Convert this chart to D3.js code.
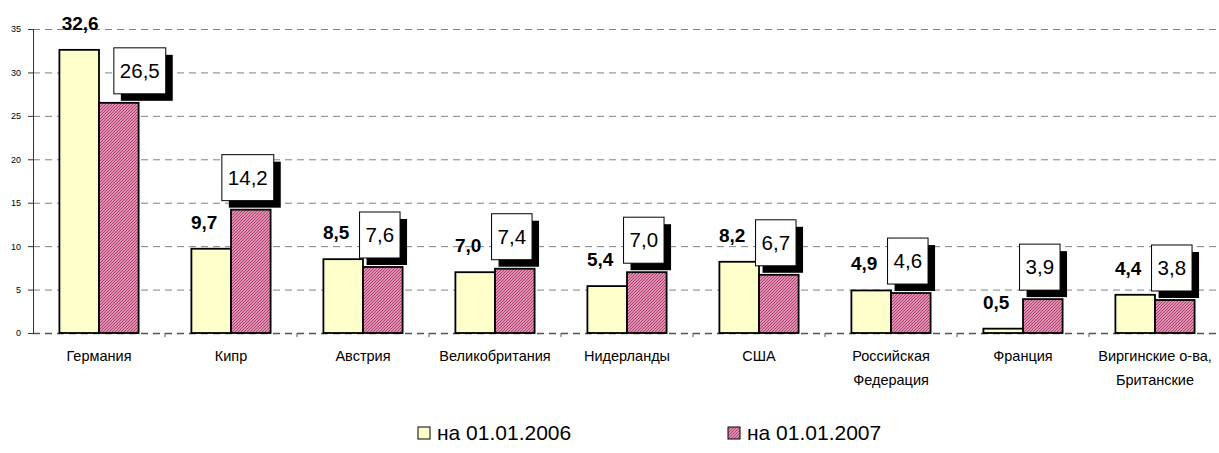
<!DOCTYPE html>
<html>
<head>
<meta charset="utf-8">
<script src="https://cdn.jsdelivr.net/npm/d3@7"></script>
<style>
  body { margin: 0; background: #fff; }
  svg { font-family: Arial, "Liberation Sans", sans-serif; }
</style>
</head>
<body>
<svg id="chart" width="1219" height="453"></svg>
<script>
var categories = ["Германия", "Кипр", "Австрия", "Великобритания", "Нидерланды", "США",
  "Российская\nФедерация", "Франция", "Виргинские о-ва,\nБританские"];
var values2006 = [32.6, 9.7, 8.5, 7.0, 5.4, 8.2, 4.9, 0.5, 4.4];
var values2007 = [26.5, 14.2, 7.6, 7.4, 7.0, 6.7, 4.6, 3.9, 3.8];
var yTicks = [0, 5, 10, 15, 20, 25, 30, 35];
var seriesNames = ["на 01.01.2006", "на 01.01.2007"];

var svg = d3.select("#chart");
var fmt = function(v) { return d3.format(".1f")(v).replace(".", ","); };

// note: "top" is taken by window.top, so plot edges get a prefix
var pLeft = 33, pTop = 29, pBottom = 333, pRight = 1221;
var x = d3.scaleBand().domain(categories).range([pLeft, pRight]);
var y = d3.scaleLinear().domain([0, 35]).range([pBottom, pTop]);
var bw = x.bandwidth() * 0.3;

// hatch for the 2007 series
var defs = svg.append("defs");
var pat = defs.append("pattern").attr("id", "hatch")
  .attr("patternUnits", "userSpaceOnUse").attr("width", 3).attr("height", 3);
pat.append("rect").attr("width", 3).attr("height", 3).attr("fill", "#f8dce8");
pat.append("path").attr("d", "M-1,1 l2,-2 M0,3 l3,-3 M2,4 l2,-2")
  .attr("stroke", "#b83a70").attr("stroke-width", 1.3);

// gridlines
svg.append("g").selectAll("line").data(yTicks).join("line")
  .attr("x1", pLeft).attr("x2", 1219)
  .attr("y1", function(d) { return y(d) + 0.5; }).attr("y2", function(d) { return y(d) + 0.5; })
  .attr("stroke", function(d) { return d === 0 ? "#555" : "#808080"; })
  .attr("stroke-width", function(d) { return d === 0 ? 1.5 : 1; })
  .attr("stroke-dasharray", "7,5");

// y axis
var yAxis = svg.append("g").attr("transform", "translate(" + pLeft + ",0)")
  .call(d3.axisLeft(y).tickValues(yTicks).tickSize(5).tickPadding(7));
yAxis.select(".domain").attr("stroke", "#333");
yAxis.selectAll(".tick line").attr("stroke", "#333");
yAxis.selectAll("text").attr("font-size", 9).attr("font-family", "Arial").attr("fill", "#000");

// category boundary ticks
svg.append("g").selectAll("line").data(categories.slice(1)).join("line")
  .attr("x1", function(d) { return x(d); }).attr("x2", function(d) { return x(d); })
  .attr("y1", pBottom).attr("y2", pBottom + 4)
  .attr("stroke", "#555");

// x labels
var xl = svg.append("g").selectAll("text").data(categories).join("text")
  .attr("x", function(d) { return x(d) + x.bandwidth() / 2; })
  .attr("y", 361).attr("text-anchor", "middle").attr("font-size", 14.5);
xl.each(function(d) {
  var t = d3.select(this);
  d.split("\n").forEach(function(s, i) {
    t.append("tspan").attr("x", t.attr("x")).attr("dy", i ? 24 : 0).text(s);
  });
});

// bars
var g = svg.append("g");
g.selectAll(".b06").data(values2006).join("rect")
  .attr("x", function(d, i) { return x(categories[i]) + x.bandwidth() / 2 - bw; })
  .attr("y", function(d) { return y(d); })
  .attr("width", bw).attr("height", function(d) { return pBottom - y(d); })
  .attr("fill", "#ffffcc").attr("stroke", "#000").attr("stroke-width", 1.8);
g.selectAll(".b07").data(values2007).join("rect")
  .attr("x", function(d, i) { return x(categories[i]) + x.bandwidth() / 2; })
  .attr("y", function(d) { return y(d); })
  .attr("width", bw).attr("height", function(d) { return pBottom - y(d); })
  .attr("fill", "url(#hatch)").attr("stroke", "#000").attr("stroke-width", 1.8);

// 2006 labels, bold
svg.append("g").selectAll("text").data(values2006).join("text")
  .attr("x", function(d, i) { return x(categories[i]) + x.bandwidth() / 2 - bw / 2 + (i === 0 ? 1 : -7); })
  .attr("y", function(d) { return y(d) - 20; })
  .attr("text-anchor", "middle").attr("font-size", 19).attr("font-weight", "bold")
  .text(fmt);

// 2007 labels, boxed with shadow
var lb = svg.append("g").selectAll("g").data(values2007).join("g")
  .attr("transform", function(d, i) {
    // first box was pushed right off the tall 2006 bar
    var cx = x(categories[i]) + x.bandwidth() / 2 + bw / 2 + (i === 0 ? 21 : -3);
    return "translate(" + cx + "," + (y(d) - 9 - 23) + ")";
  });
lb.each(function(d) {
  var t = d3.select(this);
  var txt = t.append("text").attr("text-anchor", "middle").attr("y", 7)
    .attr("font-size", 20.5).text(fmt(d));
  var w = txt.node().getComputedTextLength() + 12;
  t.insert("rect", "text").attr("x", -w / 2 + 7).attr("y", -23 + 7)
    .attr("width", w).attr("height", 46).attr("fill", "#000");
  t.insert("rect", "text").attr("x", -w / 2).attr("y", -23)
    .attr("width", w).attr("height", 46).attr("fill", "#fff")
    .attr("stroke", "#000").attr("stroke-width", 1);
});

// legend
var leg = svg.append("g").selectAll("g").data(seriesNames).join("g")
  .attr("transform", function(d, i) { return "translate(" + (i ? 728 : 418) + ",427)"; });
leg.append("rect").attr("width", 12).attr("height", 12)
  .attr("fill", function(d, i) { return i ? "url(#hatch)" : "#ffffcc"; })
  .attr("stroke", "#000").attr("stroke-width", 1);
leg.append("text").attr("x", 19).attr("y", 13).attr("font-size", 21).text(function(d) { return d; });
</script>
</body>
</html>
